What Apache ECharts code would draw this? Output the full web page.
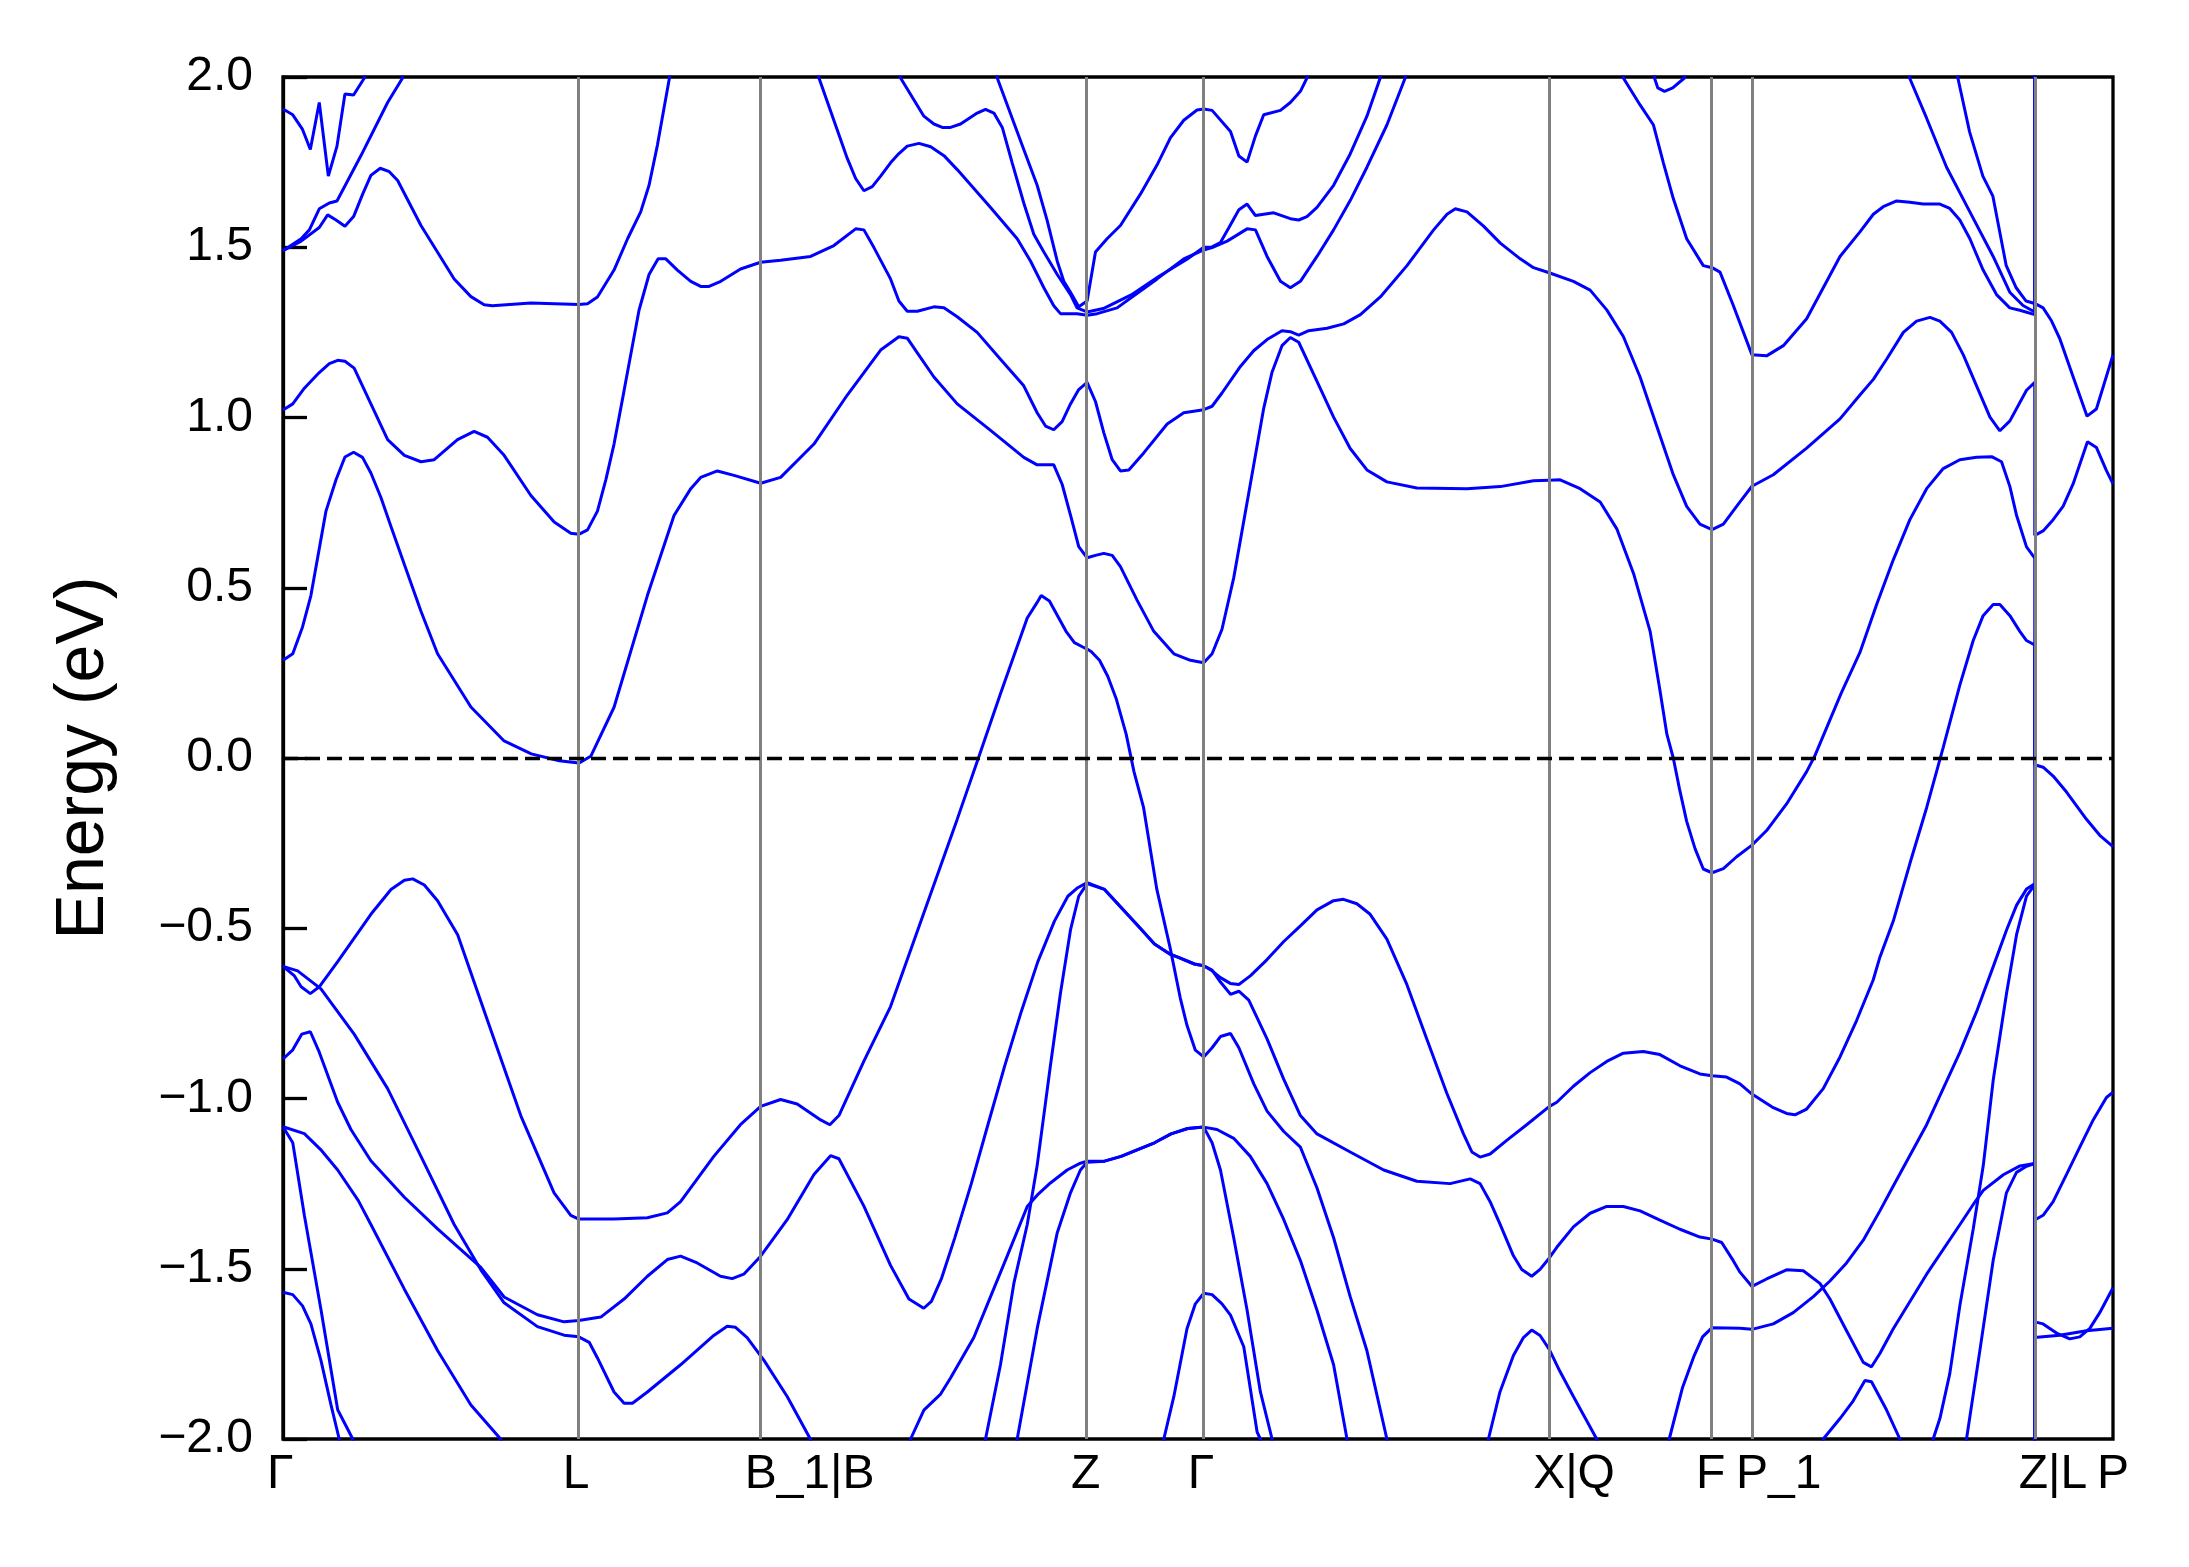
<!DOCTYPE html>
<html><head><meta charset="utf-8">
<script src="https://cdn.jsdelivr.net/npm/echarts@6/dist/echarts.min.js"></script>
<style>html,body{margin:0;padding:0;background:#fff}#c{width:2189px;height:1567px}</style>
</head><body><div id="c"></div>
<script>
const kTicks = [0, 2.12, 3.424, 5.764, 6.60, 9.076, 10.244, 10.53, 12.557, 13.118];
const kLabels = ['Γ', 'L', 'B_1|B', 'Z', 'Γ', 'X|Q', 'F', 'P_1', 'Z|L', 'P'];
const fermiLevel = 0;

const band01 = [[0,0.287],[0.07,0.306],[0.14,0.385],[0.2,0.477],[0.308,0.725],[0.38,0.817],[0.444,0.884],[0.506,0.898],[0.57,0.883],[0.63,0.837],[0.702,0.765],[0.774,0.68],[0.87,0.568],[0.989,0.431],[1.108,0.306],[1.347,0.15],[1.585,0.05],[1.78,0.012],[1.98,-0.008],[2.12,-0.015],[2.206,0.005],[2.373,0.149],[2.612,0.477],[2.803,0.712],[2.923,0.791],[2.994,0.824],[3.114,0.843],[3.233,0.83],[3.424,0.807],[3.567,0.824],[3.806,0.922],[4.045,1.066],[4.284,1.198],[4.415,1.237],[4.475,1.233],[4.547,1.19],[4.666,1.119],[4.833,1.04],[5.072,0.962],[5.31,0.883],[5.406,0.861],[5.525,0.861],[5.585,0.804],[5.645,0.713],[5.704,0.621],[5.764,0.588],[5.824,0.595],[5.884,0.601],[5.944,0.595],[6.003,0.562],[6.123,0.463],[6.242,0.372],[6.386,0.306],[6.505,0.287],[6.6,0.28],[6.66,0.306],[6.731,0.378],[6.815,0.529],[6.934,0.804],[7.03,1.027],[7.089,1.132],[7.161,1.211],[7.221,1.235],[7.281,1.221],[7.412,1.106],[7.531,1.001],[7.65,0.909],[7.77,0.846],[7.913,0.811],[8.128,0.793],[8.487,0.791],[8.726,0.797],[8.964,0.814],[9.076,0.816],[9.155,0.817],[9.298,0.791],[9.442,0.752],[9.561,0.673],[9.681,0.542],[9.8,0.372],[9.87,0.2],[9.92,0.07],[9.966,0.0],[10.01,-0.09],[10.062,-0.186],[10.122,-0.266],[10.181,-0.326],[10.244,-0.337],[10.325,-0.325],[10.42,-0.29],[10.53,-0.256],[10.635,-0.213],[10.778,-0.135],[10.922,-0.04],[10.979,0.005],[11.169,0.19],[11.304,0.31],[11.423,0.45],[11.543,0.582],[11.662,0.7],[11.782,0.791],[11.901,0.85],[12.02,0.876],[12.14,0.883],[12.248,0.885],[12.319,0.87],[12.379,0.797],[12.427,0.712],[12.498,0.62],[12.557,0.587],[12.557,-0.02],[12.617,-0.027],[12.689,-0.053],[12.785,-0.1],[12.928,-0.18],[13.023,-0.227],[13.118,-0.26]];

const band02 = [[0,1.022],[0.07,1.04],[0.153,1.086],[0.26,1.132],[0.332,1.158],[0.392,1.168],[0.444,1.165],[0.51,1.145],[0.63,1.04],[0.75,0.935],[0.87,0.889],[0.989,0.87],[1.084,0.876],[1.251,0.935],[1.37,0.959],[1.466,0.942],[1.585,0.889],[1.777,0.771],[1.944,0.693],[2.063,0.66],[2.12,0.657],[2.183,0.67],[2.254,0.725],[2.314,0.817],[2.373,0.922],[2.445,1.079],[2.552,1.315],[2.624,1.42],[2.689,1.466],[2.744,1.466],[2.827,1.433],[2.923,1.4],[2.994,1.385],[3.054,1.385],[3.138,1.4],[3.28,1.436],[3.424,1.456],[3.567,1.462],[3.782,1.473],[3.949,1.505],[4.105,1.554],[4.164,1.551],[4.236,1.499],[4.355,1.407],[4.415,1.342],[4.475,1.312],[4.547,1.312],[4.666,1.325],[4.738,1.322],[4.833,1.296],[4.976,1.25],[5.143,1.171],[5.31,1.093],[5.406,1.014],[5.466,0.975],[5.525,0.964],[5.585,0.988],[5.645,1.04],[5.704,1.082],[5.764,1.103],[5.824,1.047],[5.884,0.955],[5.944,0.876],[6.003,0.843],[6.063,0.846],[6.17,0.896],[6.338,0.981],[6.457,1.014],[6.6,1.023],[6.66,1.033],[6.731,1.072],[6.863,1.15],[6.958,1.196],[7.054,1.229],[7.161,1.255],[7.221,1.252],[7.281,1.242],[7.353,1.255],[7.484,1.262],[7.604,1.275],[7.723,1.302],[7.866,1.354],[8.057,1.446],[8.248,1.551],[8.344,1.597],[8.404,1.613],[8.487,1.604],[8.606,1.562],[8.726,1.512],[8.869,1.466],[8.964,1.44],[9.076,1.425],[9.25,1.4],[9.37,1.374],[9.489,1.316],[9.608,1.238],[9.728,1.119],[9.847,0.975],[9.966,0.832],[10.062,0.739],[10.157,0.687],[10.244,0.671],[10.325,0.687],[10.444,0.752],[10.53,0.798],[10.683,0.832],[10.922,0.91],[11.161,0.996],[11.304,1.066],[11.4,1.112],[11.495,1.171],[11.615,1.25],[11.71,1.283],[11.806,1.294],[11.877,1.283],[11.961,1.25],[12.045,1.184],[12.14,1.093],[12.236,1.001],[12.307,0.961],[12.379,0.99],[12.498,1.08],[12.557,1.103],[12.557,0.654],[12.617,0.667],[12.689,0.7],[12.76,0.739],[12.832,0.805],[12.935,0.929],[12.999,0.912],[13.071,0.844],[13.118,0.805]];

const band03 = [[0,1.49],[0.13,1.518],[0.26,1.558],[0.32,1.595],[0.38,1.58],[0.444,1.562],[0.506,1.59],[0.571,1.656],[0.63,1.711],[0.697,1.732],[0.762,1.722],[0.822,1.696],[0.989,1.564],[1.227,1.407],[1.347,1.355],[1.442,1.331],[1.5,1.328],[1.777,1.336],[2.12,1.332],[2.183,1.334],[2.254,1.354],[2.373,1.433],[2.47,1.525],[2.564,1.604],[2.624,1.682],[2.684,1.8],[2.77,1.997],[2.785,2.03]];

const band04 = [[0,1.49],[0.13,1.525],[0.189,1.551],[0.26,1.613],[0.332,1.63],[0.387,1.636],[0.56,1.77],[0.75,1.925],[0.857,1.997],[0.87,2.03]];

const band05 = [[0,1.906],[0.07,1.889],[0.14,1.846],[0.196,1.787],[0.26,1.925],[0.325,1.709],[0.387,1.797],[0.444,1.95],[0.506,1.947],[0.583,1.997],[0.6,2.03]];

const band06 = [[3.82,2.03],[3.842,1.997],[4.045,1.761],[4.105,1.702],[4.164,1.666],[4.224,1.678],[4.284,1.709],[4.355,1.748],[4.415,1.775],[4.475,1.797],[4.559,1.805],[4.643,1.795],[4.738,1.769],[4.833,1.728],[5.072,1.617],[5.263,1.525],[5.359,1.459],[5.454,1.381],[5.525,1.328],[5.573,1.305],[5.692,1.305],[5.764,1.3],[5.836,1.305],[5.979,1.322],[6.266,1.407],[6.457,1.466],[6.6,1.492],[6.66,1.499],[6.768,1.518],[6.911,1.554],[6.971,1.551],[7.054,1.473],[7.15,1.4],[7.221,1.381],[7.293,1.4],[7.412,1.473],[7.531,1.551],[7.65,1.637],[7.77,1.735],[7.913,1.859],[8.044,1.997],[8.06,2.03]];

const band07 = [[4.4,2.03],[4.427,1.997],[4.594,1.885],[4.666,1.862],[4.726,1.852],[4.785,1.852],[4.857,1.862],[4.976,1.894],[5.036,1.905],[5.096,1.894],[5.156,1.852],[5.227,1.748],[5.31,1.63],[5.382,1.538],[5.454,1.486],[5.55,1.42],[5.645,1.361],[5.692,1.322],[5.764,1.31],[5.88,1.32],[6.08,1.36],[6.28,1.415],[6.48,1.465],[6.6,1.5],[6.66,1.501],[6.72,1.514],[6.78,1.557],[6.852,1.61],[6.911,1.627],[6.971,1.593],[7.03,1.597],[7.102,1.601],[7.221,1.584],[7.281,1.58],[7.34,1.59],[7.412,1.617],[7.531,1.682],[7.65,1.774],[7.77,1.885],[7.865,1.997],[7.88,2.03]];

const band08 = [[5.1,2.03],[5.12,1.997],[5.215,1.892],[5.31,1.787],[5.406,1.682],[5.478,1.578],[5.55,1.459],[5.597,1.4],[5.645,1.368],[5.704,1.325],[5.764,1.342],[5.824,1.486],[5.907,1.525],[6.003,1.564],[6.146,1.656],[6.266,1.742],[6.361,1.821],[6.457,1.873],[6.552,1.903],[6.6,1.906],[6.66,1.902],[6.792,1.84],[6.852,1.768],[6.911,1.75],[6.971,1.827],[7.03,1.889],[7.15,1.902],[7.221,1.925],[7.293,1.958],[7.34,1.997],[7.36,2.03]];

const band09 = [[9.59,2.03],[9.608,1.997],[9.728,1.918],[9.824,1.859],[9.895,1.748],[9.966,1.643],[10.062,1.525],[10.181,1.446],[10.244,1.44],[10.301,1.427],[10.397,1.328],[10.53,1.184],[10.635,1.181],[10.755,1.211],[10.922,1.29],[11.161,1.473],[11.304,1.545],[11.4,1.597],[11.471,1.619],[11.567,1.636],[11.662,1.632],[11.758,1.627],[11.877,1.627],[11.948,1.614],[12.02,1.58],[12.092,1.525],[12.187,1.433],[12.283,1.361],[12.378,1.322],[12.45,1.315],[12.557,1.302],[12.557,1.335],[12.617,1.322],[12.677,1.284],[12.736,1.232],[12.832,1.12],[12.932,1.004],[12.999,1.025],[13.118,1.184]];

const band10 = [[11.64,2.03],[11.66,1.997],[11.782,1.879],[11.925,1.735],[12.092,1.604],[12.259,1.473],[12.378,1.368],[12.473,1.329],[12.557,1.31],[12.557,2.3]];

const band11 = [[11.99,2.03],[12.006,1.997],[12.09,1.839],[12.185,1.709],[12.257,1.65],[12.352,1.447],[12.424,1.381],[12.495,1.342],[12.557,1.335],[12.557,2.3]];

const band12 = [[9.825,2.03],[9.831,1.997],[9.855,1.968],[9.903,1.958],[9.962,1.968],[10.046,1.997],[10.055,2.03]];

const band13 = [[0,-0.612],[0.08,-0.639],[0.13,-0.672],[0.196,-0.692],[0.26,-0.672],[0.392,-0.598],[0.63,-0.459],[0.774,-0.386],[0.87,-0.359],[0.93,-0.355],[1.013,-0.373],[1.108,-0.419],[1.252,-0.519],[1.466,-0.771],[1.705,-1.051],[1.943,-1.277],[2.063,-1.343],[2.12,-1.354],[2.373,-1.354],[2.612,-1.35],[2.755,-1.336],[2.85,-1.303],[3.088,-1.17],[3.279,-1.077],[3.424,-1.023],[3.567,-1.003],[3.686,-1.016],[3.854,-1.063],[3.92,-1.077],[3.985,-1.05],[4.164,-0.89],[4.355,-0.73],[4.593,-0.456],[4.832,-0.181],[4.985,0.0],[5.143,0.189],[5.335,0.411],[5.406,0.457],[5.435,0.477],[5.494,0.461],[5.613,0.372],[5.673,0.339],[5.733,0.326],[5.764,0.32],[5.793,0.313],[5.853,0.287],[5.912,0.24],[5.972,0.175],[6.044,0.07],[6.1,-0.04],[6.169,-0.146],[6.264,-0.386],[6.36,-0.559],[6.432,-0.705],[6.48,-0.785],[6.54,-0.858],[6.6,-0.878],[6.66,-0.851],[6.72,-0.818],[6.792,-0.809],[6.852,-0.851],[6.959,-0.957],[7.054,-1.037],[7.174,-1.097],[7.293,-1.143],[7.34,-1.19],[7.412,-1.263],[7.531,-1.409],[7.65,-1.582],[7.77,-1.741],[7.913,-2.0],[7.93,-2.03]];

const band14 = [[0,-0.612],[0.105,-0.625],[0.272,-0.678],[0.51,-0.811],[0.75,-0.971],[0.989,-1.17],[1.227,-1.37],[1.418,-1.503],[1.585,-1.6],[1.824,-1.67],[2.015,-1.695],[2.12,-1.7],[2.195,-1.716],[2.254,-1.762],[2.373,-1.862],[2.445,-1.895],[2.505,-1.895],[2.612,-1.862],[2.85,-1.782],[3.088,-1.696],[3.184,-1.669],[3.244,-1.672],[3.327,-1.702],[3.448,-1.769],[3.614,-1.875],[3.78,-2.0],[3.8,-2.03]];

const band15 = [[0,-0.884],[0.07,-0.857],[0.134,-0.811],[0.196,-0.804],[0.26,-0.864],[0.392,-1.011],[0.487,-1.091],[0.63,-1.183],[0.87,-1.29],[1.108,-1.383],[1.418,-1.496],[1.585,-1.583],[1.824,-1.635],[2.015,-1.656],[2.12,-1.652],[2.278,-1.642],[2.445,-1.589],[2.612,-1.522],[2.755,-1.473],[2.85,-1.463],[2.969,-1.483],[3.136,-1.522],[3.22,-1.529],[3.303,-1.516],[3.424,-1.463],[3.614,-1.356],[3.806,-1.223],[3.925,-1.168],[3.985,-1.177],[4.164,-1.316],[4.355,-1.49],[4.487,-1.589],[4.593,-1.616],[4.648,-1.596],[4.719,-1.53],[4.815,-1.41],[4.934,-1.25],[5.053,-1.077],[5.173,-0.905],[5.292,-0.745],[5.411,-0.598],[5.53,-0.479],[5.626,-0.406],[5.697,-0.381],[5.764,-0.366],[5.889,-0.386],[6.008,-0.439],[6.127,-0.492],[6.247,-0.546],[6.354,-0.575],[6.414,-0.585],[6.533,-0.605],[6.6,-0.61],[6.66,-0.625],[6.72,-0.645],[6.79,-0.662],[6.852,-0.665],[6.936,-0.639],[7.054,-0.592],[7.174,-0.539],[7.293,-0.493],[7.412,-0.446],[7.531,-0.419],[7.602,-0.415],[7.698,-0.428],[7.793,-0.459],[7.913,-0.532],[8.056,-0.665],[8.199,-0.825],[8.342,-0.984],[8.462,-1.104],[8.522,-1.157],[8.581,-1.172],[8.653,-1.163],[8.772,-1.123],[8.915,-1.077],[9.076,-1.024],[9.131,-1.011],[9.25,-0.964],[9.37,-0.924],[9.489,-0.891],[9.608,-0.867],[9.751,-0.862],[9.87,-0.871],[10.014,-0.904],[10.157,-0.928],[10.244,-0.933],[10.348,-0.937],[10.444,-0.957],[10.53,-0.987],[10.683,-1.027],[10.778,-1.044],[10.838,-1.048],[10.922,-1.031],[11.041,-0.971],[11.161,-0.878],[11.28,-0.771],[11.399,-0.652],[11.447,-0.585],[11.543,-0.479],[11.662,-0.31],[11.782,-0.146],[11.9,0.03],[12.02,0.214],[12.116,0.345],[12.187,0.418],[12.259,0.451],[12.307,0.451],[12.379,0.418],[12.45,0.372],[12.498,0.345],[12.557,0.332],[12.557,-1.357],[12.617,-1.343],[12.689,-1.303],[12.785,-1.223],[12.88,-1.143],[12.976,-1.063],[13.071,-0.997],[13.118,-0.981]];

const band16 = [[0,-1.083],[0.153,-1.103],[0.27,-1.15],[0.392,-1.21],[0.54,-1.3],[0.63,-1.37],[0.87,-1.56],[1.108,-1.74],[1.347,-1.9],[1.56,-2.0],[1.59,-2.03]];

const band17 = [[0,-1.083],[0.07,-1.13],[0.153,-1.343],[0.272,-1.62],[0.392,-1.914],[0.5,-2.0],[0.51,-2.03]];

const band18 = [[0,-1.569],[0.07,-1.576],[0.14,-1.609],[0.2,-1.662],[0.272,-1.769],[0.344,-1.9],[0.403,-2.0],[0.41,-2.03]];

const band19 = [[4.49,-2.03],[4.499,-2.0],[4.594,-1.915],[4.714,-1.868],[4.785,-1.821],[4.952,-1.702],[5.072,-1.582],[5.191,-1.463],[5.335,-1.317],[5.406,-1.284],[5.501,-1.248],[5.621,-1.21],[5.716,-1.19],[5.764,-1.184],[5.889,-1.184],[6.008,-1.17],[6.127,-1.15],[6.247,-1.13],[6.366,-1.104],[6.485,-1.088],[6.6,-1.084],[6.695,-1.091],[6.815,-1.117],[6.934,-1.17],[7.054,-1.25],[7.174,-1.356],[7.293,-1.476],[7.412,-1.622],[7.531,-1.782],[7.627,-2.0],[7.635,-2.03]];

const band20 = [[5.03,-2.03],[5.036,-2.0],[5.143,-1.782],[5.239,-1.543],[5.335,-1.37],[5.406,-1.197],[5.501,-0.904],[5.573,-0.691],[5.645,-0.505],[5.704,-0.406],[5.764,-0.369],[5.889,-0.386],[6.008,-0.439],[6.127,-0.492],[6.247,-0.546],[6.354,-0.575],[6.414,-0.585],[6.533,-0.605],[6.6,-0.61],[6.66,-0.623],[6.72,-0.658],[6.792,-0.694],[6.852,-0.685],[6.923,-0.711],[7.054,-0.825],[7.174,-0.944],[7.293,-1.05],[7.412,-1.104],[7.65,-1.157],[7.89,-1.21],[8.128,-1.243],[8.366,-1.25],[8.51,-1.236],[8.581,-1.25],[8.653,-1.303],[8.724,-1.369],[8.82,-1.462],[8.88,-1.502],[8.951,-1.522],[9.011,-1.502],[9.076,-1.469],[9.131,-1.437],[9.25,-1.377],[9.37,-1.337],[9.489,-1.317],[9.608,-1.317],[9.728,-1.33],[9.87,-1.357],[10.014,-1.384],[10.157,-1.407],[10.244,-1.413],[10.313,-1.423],[10.397,-1.477],[10.444,-1.51],[10.53,-1.552],[10.635,-1.53],[10.778,-1.503],[10.898,-1.506],[11.017,-1.543],[11.089,-1.589],[11.208,-1.682],[11.328,-1.775],[11.387,-1.788],[11.447,-1.749],[11.543,-1.676],[11.782,-1.516],[12.021,-1.37],[12.128,-1.304],[12.188,-1.27],[12.332,-1.224],[12.451,-1.198],[12.557,-1.191],[12.557,-2.3]];

const band21 = [[5.26,-2.03],[5.263,-2.0],[5.406,-1.676],[5.549,-1.396],[5.645,-1.277],[5.716,-1.21],[5.764,-1.187],[5.889,-1.184],[6.008,-1.17],[6.127,-1.15],[6.247,-1.13],[6.366,-1.104],[6.485,-1.088],[6.6,-1.084],[6.66,-1.13],[6.72,-1.21],[6.815,-1.409],[6.911,-1.622],[7.006,-1.861],[7.09,-2.0],[7.095,-2.03]];

const band22 = [[6.31,-2.03],[6.314,-2.0],[6.386,-1.875],[6.48,-1.676],[6.54,-1.603],[6.6,-1.572],[6.66,-1.576],[6.731,-1.603],[6.792,-1.636],[6.887,-1.729],[6.983,-1.98],[7.006,-2.0],[7.01,-2.03]];

const band23 = [[8.635,-2.03],[8.641,-2.0],[8.724,-1.861],[8.82,-1.755],[8.892,-1.702],[8.951,-1.68],[9.011,-1.696],[9.076,-1.736],[9.154,-1.802],[9.25,-1.875],[9.417,-2.0],[9.425,-2.03]];

const band24 = [[9.93,-2.03],[9.937,-2.0],[10.033,-1.848],[10.116,-1.755],[10.176,-1.7],[10.244,-1.673],[10.444,-1.675],[10.53,-1.678],[10.683,-1.662],[10.826,-1.629],[10.97,-1.582],[11.089,-1.536],[11.208,-1.483],[11.328,-1.416],[11.447,-1.33],[11.543,-1.257],[11.782,-1.077],[12.021,-0.864],[12.14,-0.745],[12.26,-0.612],[12.355,-0.505],[12.427,-0.432],[12.498,-0.385],[12.557,-0.369],[12.557,-1.656],[12.617,-1.662],[12.713,-1.689],[12.808,-1.706],[12.88,-1.7],[12.952,-1.675],[13.023,-1.629],[13.118,-1.556]];

const band25 = [[11.035,-2.03],[11.041,-2.0],[11.161,-1.94],[11.256,-1.888],[11.34,-1.828],[11.387,-1.832],[11.495,-1.915],[11.59,-2.0],[11.595,-2.03]];

const band26 = [[11.825,-2.03],[11.829,-2.0],[11.877,-1.94],[11.948,-1.808],[12.02,-1.609],[12.116,-1.383],[12.188,-1.197],[12.26,-0.944],[12.355,-0.691],[12.427,-0.518],[12.498,-0.406],[12.557,-0.372],[12.557,-1.702],[12.736,-1.695],[12.928,-1.682],[13.118,-1.675]];

const band27 = [[12.065,-2.03],[12.068,-2.0],[12.163,-1.742],[12.259,-1.476],[12.354,-1.277],[12.426,-1.217],[12.498,-1.199],[12.557,-1.191],[12.557,-2.3]];

const bands = [band01,band02,band03,band04,band05,band06,band07,band08,band09,band10,band11,band12,band13,band14,band15,band16,band17,band18,band19,band20,band21,band22,band23,band24,band25,band26,band27];

const FONT = '"Liberation Sans", Arial, sans-serif';
const chart = echarts.init(document.getElementById('c'), null, {renderer: 'canvas', width: 2189, height: 1567});

function labelFor(v) {
  let best = 0, bd = Infinity;
  kTicks.forEach((k, i) => { const d = Math.abs(k - v); if (d < bd) { bd = d; best = i; } });
  return kLabels[best];
}
const fmtE = v => (v < 0 ? '\u2212' : '') + Math.abs(v).toFixed(1);

const series = [];
series.push({
  type: 'line', data: [], silent: true, z: 1,
  markLine: {
    silent: true, symbol: ['none', 'none'], animation: false,
    label: {show: false},
    lineStyle: {color: '#808080', width: 3, type: 'solid'},
    emphasis: {disabled: true},
    data: kTicks.slice(1, -1).map(k => ({xAxis: k}))
  }
});
bands.forEach((b, i) => {
  series.push({
    type: 'line', name: 'band' + (i + 1), data: b, showSymbol: false, symbol: 'none',
    clip: true, z: 2, silent: true,
    lineStyle: {color: '#0000ff', width: 3},
    emphasis: {disabled: true}
  });
});
series.push({
  type: 'line', data: [], silent: true, z: 3,
  markLine: {
    silent: true, symbol: ['none', 'none'], animation: false,
    label: {show: false},
    lineStyle: {color: '#000000', width: 3.4, type: [15, 7]},
    emphasis: {disabled: true},
    data: [{yAxis: fermiLevel}]
  }
});

chart.setOption({
  animation: false,
  backgroundColor: '#ffffff',
  grid: {left: 283, top: 77, width: 1830, height: 1362, show: true, borderColor: '#000', borderWidth: 3.3, backgroundColor: 'transparent'},
  xAxis: {
    type: 'value', min: kTicks[0], max: kTicks[kTicks.length - 1],
    axisLine: {show: false, onZero: false},
    axisTick: {show: false},
    splitLine: {show: false},
    axisLabel: {
      customValues: kTicks, formatter: labelFor, fontFamily: FONT, fontSize: 48, color: '#000',
      margin: 12, align: 'left', padding: [0, 0, 0, -16]
    }
  },
  yAxis: {
    type: 'value', min: -2, max: 2, interval: 0.5,
    axisLine: {show: true, lineStyle: {color: '#000', width: 3.3}},
    axisTick: {show: true, inside: true, length: 24, lineStyle: {color: '#000', width: 3.3}},
    splitLine: {show: false},
    axisLabel: {formatter: fmtE, fontFamily: FONT, fontSize: 48, color: '#000', margin: 30},
    name: 'Energy (eV)', nameLocation: 'middle', nameGap: 165,
    nameTextStyle: {fontFamily: FONT, fontSize: 68, color: '#000'}
  },
  tooltip: {show: false},
  series: series
});
</script>
</body></html>
